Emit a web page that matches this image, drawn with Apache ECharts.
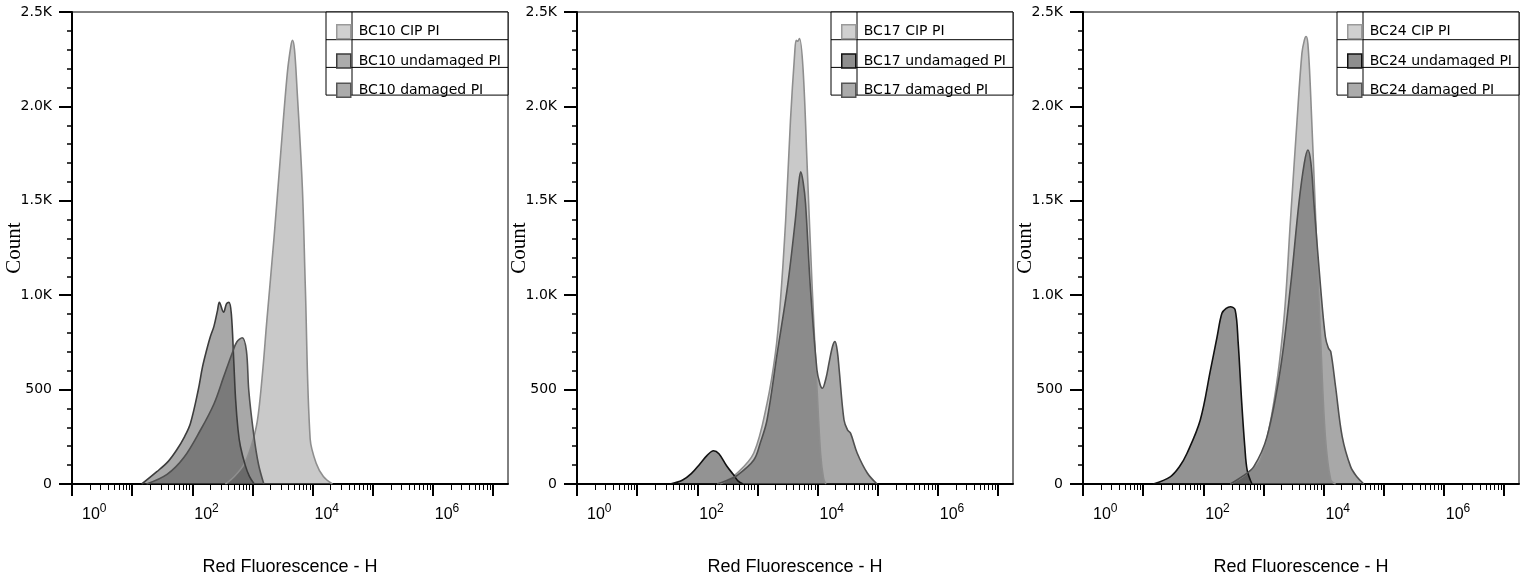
<!DOCTYPE html>
<html>
<head>
<meta charset="utf-8">
<script src="https://cdn.jsdelivr.net/npm/echarts@6/dist/echarts.min.js"></script>
<style>
  html, body { margin: 0; padding: 0; background: #fff; }
  #chart { width: 1526px; height: 579px; }
</style>
</head>
<body>
<div id="chart"></div>
<script>
// x = log10(Red Fluorescence - H), y = Count
const bc10CipX = [2.55, 2.7, 2.86, 2.98, 3.08, 3.16, 3.24, 3.36, 3.47, 3.58, 3.64, 3.667, 3.7, 3.74, 3.83, 3.88, 3.96, 4.06, 4.18, 4.33];
const bc10CipY = [0, 40, 104, 200, 330, 560, 865, 1307, 1750, 2175, 2320, 2350, 2300, 2103, 1573, 1042, 240, 110, 40, 0];
const bc10UndX = [1.16, 1.41, 1.6, 1.74, 1.87, 1.97, 2.1, 2.17, 2.24, 2.3, 2.36, 2.42, 2.45, 2.52, 2.57, 2.61, 2.65, 2.69, 2.72, 2.76, 2.8, 2.88, 2.95, 3.03];
const bc10UndY = [0, 65, 120, 180, 250, 322, 499, 620, 711, 780, 835, 920, 962, 910, 955, 962, 900, 650, 450, 290, 200, 100, 40, 0];
const bc10DamX = [1.24, 1.58, 1.86, 2.13, 2.36, 2.52, 2.66, 2.74, 2.83, 2.9, 2.94, 3.02, 3.1, 3.19];
const bc10DamY = [0, 51, 140, 282, 424, 566, 690, 752, 775, 706, 493, 266, 106, 0];

const bc17CipX = [2.38, 2.66, 2.94, 3.16, 3.3, 3.38, 3.47, 3.55, 3.62, 3.645, 3.67, 3.7, 3.76, 3.83, 3.91, 3.99, 4.05, 4.1, 4.14];
const bc17CipY = [0, 57, 164, 427, 694, 959, 1398, 1928, 2281, 2350, 2345, 2360, 2193, 1663, 1045, 515, 162, 30, 0];
const bc17UndX = [1.55, 1.75, 1.9, 2.05, 2.16, 2.27, 2.36, 2.49, 2.6, 2.68, 2.76];
const bc17UndY = [0, 20, 55, 109, 150, 176, 160, 95, 50, 15, 0];
const bc17DamX = [2.33, 2.5, 2.66, 2.94, 3.05, 3.16, 3.33, 3.5, 3.63, 3.69, 3.72, 3.76, 3.8, 3.88, 3.99, 4.04, 4.08, 4.14, 4.19, 4.25, 4.29, 4.33, 4.36, 4.44, 4.5, 4.55, 4.66, 4.83, 4.99];
const bc17DamY = [0, 20, 45, 127, 220, 339, 694, 1045, 1398, 1600, 1654, 1600, 1487, 1045, 604, 530, 507, 560, 640, 730, 754, 700, 604, 339, 285, 268, 163, 57, 0];

const bc24CipX = [2.45, 2.7, 2.95, 3.17, 3.34, 3.45, 3.56, 3.64, 3.68, 3.71, 3.74, 3.78, 3.87, 3.95, 4.03, 4.12, 4.2];
const bc24CipY = [0, 50, 127, 427, 868, 1398, 1928, 2281, 2350, 2370, 2330, 2104, 1398, 780, 251, 21, 0];
const bc24UndX = [1.17, 1.45, 1.6, 1.73, 1.95, 2.12, 2.23, 2.31, 2.38, 2.45, 2.53, 2.58, 2.64, 2.69, 2.73, 2.81];
const bc24UndY = [0, 38, 90, 163, 339, 604, 780, 904, 930, 939, 922, 750, 427, 200, 74, 0];
const bc24DamX = [2.45, 2.65, 2.84, 3.06, 3.28, 3.45, 3.59, 3.68, 3.74, 3.79, 3.84, 3.95, 4.03, 4.08, 4.12, 4.2, 4.31, 4.45, 4.55, 4.67];
const bc24DamY = [0, 40, 92, 251, 604, 1045, 1487, 1700, 1769, 1700, 1487, 1045, 780, 720, 701, 515, 251, 92, 40, 0];

const sampleNames = ['BC10', 'BC17', 'BC24'];
const yTicks = [0, 500, 1000, 1500, 2000, 2500];
const yTickLabels = ['0', '500', '1.0K', '1.5K', '2.0K', '2.5K'];
const xMajorDecades = [0, 1, 2, 3, 4, 5, 6, 7];
const xLabelDecades = [0, 2, 4, 6];

const panels = [
  { cip: [bc10CipX, bc10CipY], und: [bc10UndX, bc10UndY], dam: [bc10DamX, bc10DamY] },
  { cip: [bc17CipX, bc17CipY], und: [bc17UndX, bc17UndY], dam: [bc17DamX, bc17DamY] },
  { cip: [bc24CipX, bc24CipY], und: [bc24UndX, bc24UndY], dam: [bc24DamX, bc24DamY] }
];

// layout
const panelLeft = [72, 577, 1083];
const plotTop = 12, plotW = 436, plotH = 472;
const xMax = 7.25;
const legW = 182, legRow = 27.7;

// minor ticks at 2..9 of every decade
const xMinor = [];
xMajorDecades.forEach(d => {
  for (let k = 2; k <= 9; k++) {
    const v = d + Math.log10(k);
    if (v < xMax) xMinor.push(v);
  }
});

const styles = {
  cip: { line: '#8e8e8e', fill: 'rgba(135,135,135,0.45)', swatch: '#d0d0d0', border: '#9a9a9a' },
  und: [
    { line: '#3c3c3c', fill: 'rgba(70,70,70,0.47)', swatch: '#ababab', border: '#3c3c3c' },
    { line: '#111', fill: 'rgba(40,40,40,0.5)', swatch: '#8e8e8e', border: '#111' },
    { line: '#111', fill: 'rgba(40,40,40,0.5)', swatch: '#8e8e8e', border: '#111' }
  ],
  dam: { line: '#505050', fill: 'rgba(70,70,70,0.47)', swatch: '#ababab', border: '#555' }
};

const zip = (xs, ys) => xs.map((x, i) => [x, ys[i]]);

const grid = [], xAxis = [], yAxis = [], series = [], legend = [], graphic = [];

panels.forEach((p, i) => {
  const L = panelLeft[i];
  grid.push({
    left: L, top: plotTop, width: plotW, height: plotH,
    containLabel: false, outerBoundsMode: 'none',
    show: true, borderColor: '#000', borderWidth: 1
  });

  xAxis.push({
    gridIndex: i, type: 'value', min: 0, max: xMax, position: 'bottom',
    axisLine: { show: true, onZero: false, lineStyle: { color: '#000', width: 2 } },
    axisTick: { show: true, customValues: xMajorDecades, length: 12, lineStyle: { color: '#000', width: 2 } },
    axisLabel: {
      customValues: xLabelDecades, align: 'left', margin: 19, color: '#000',
      formatter: v => {
        const n = Math.round(v);
        return (n === 0 ? '{b0|10}' : '{b|10}') + '{s|' + n + '}';
      },
      rich: {
        b: { fontSize: 16, fontFamily: 'Liberation Sans', color: '#000', verticalAlign: 'bottom', padding: [0, 0, 0, 2] },
        b0: { fontSize: 16, fontFamily: 'Liberation Sans', color: '#000', verticalAlign: 'bottom', padding: [0, 0, 0, 10] },
        s: { fontSize: 12, fontFamily: 'Liberation Sans', color: '#000', verticalAlign: 'top', padding: [0, 0, 8, 0] }
      }
    },
    splitLine: { show: false },
    name: 'Red Fluorescence - H', nameLocation: 'middle', nameGap: 74, nameMoveOverlap: false,
    nameTextStyle: { fontFamily: 'Liberation Sans', fontSize: 18, color: '#000' }
  });
  xAxis.push({
    gridIndex: i, type: 'value', min: 0, max: xMax, position: 'bottom',
    axisLine: { show: false },
    axisTick: { show: true, customValues: xMinor, length: 6, lineStyle: { color: '#000', width: 1 } },
    axisLabel: { show: false },
    splitLine: { show: false }
  });

  yAxis.push({
    gridIndex: i, type: 'value', min: 0, max: 2500, interval: 500,
    axisLine: { show: true, lineStyle: { color: '#000', width: 2 } },
    axisTick: { show: true, length: 13, lineStyle: { color: '#000', width: 2 } },
    minorTick: { show: true, splitNumber: 5, length: 5, lineStyle: { color: '#000', width: 1.5 } },
    axisLabel: {
      margin: 20, color: '#000', fontFamily: 'DejaVu Sans', fontSize: 14,
      formatter: v => yTickLabels[yTicks.indexOf(v)]
    },
    splitLine: { show: false },
    name: 'Count', nameLocation: 'middle', nameGap: 47, nameRotate: 90, nameMoveOverlap: false,
    nameTextStyle: { fontFamily: 'Liberation Serif', fontSize: 21, color: '#000' }
  });

  const defs = [
    { key: 'cip', label: sampleNames[i] + ' CIP PI', st: styles.cip },
    { key: 'und', label: sampleNames[i] + ' undamaged PI', st: styles.und[i] },
    { key: 'dam', label: sampleNames[i] + ' damaged PI', st: styles.dam }
  ];
  defs.forEach(d => {
    series.push({
      name: d.label, type: 'line', xAxisIndex: 2 * i, yAxisIndex: i,
      data: zip(p[d.key][0], p[d.key][1]),
      smooth: 0.35, showSymbol: false, symbol: 'none',
      lineStyle: { color: d.st.line, width: 1.6 },
      itemStyle: { color: d.st.line },
      areaStyle: { color: d.st.fill, opacity: 1 },
      silent: true, animation: false
    });
  });

  const lx = L + plotW - legW;
  legend.push({
    orient: 'vertical', left: lx + 5, top: plotTop + 7,
    itemWidth: 14, itemHeight: 14, itemGap: legRow - 14,
    icon: 'rect', selectedMode: false,
    textStyle: { fontFamily: 'DejaVu Sans', fontSize: 14, color: '#000', lineHeight: 14, padding: [0, 0, 0, 3] },
    data: defs.map(d => ({ name: d.label, itemStyle: { color: d.st.swatch, borderColor: d.st.border, borderWidth: 1.5 } }))
  });

  graphic.push({
    type: 'rect', z: 3, shape: { x: lx, y: plotTop, width: legW, height: legRow * 3 },
    style: { fill: '#fff', stroke: '#000', lineWidth: 1 }
  });
  [1, 2].forEach(r => graphic.push({
    type: 'line', z: 3, shape: { x1: lx, y1: plotTop + legRow * r, x2: lx + legW, y2: plotTop + legRow * r },
    style: { stroke: '#000', lineWidth: 1 }
  }));
  graphic.push({
    type: 'line', z: 3, shape: { x1: lx + 26, y1: plotTop, x2: lx + 26, y2: plotTop + legRow * 3 },
    style: { stroke: '#000', lineWidth: 1 }
  });
});

const chart = echarts.init(document.getElementById('chart'), null, { renderer: 'canvas' });
chart.setOption({
  backgroundColor: '#fff',
  animation: false,
  grid, xAxis, yAxis, series, legend, graphic
});
window.addEventListener('resize', () => chart.resize());
</script>
</body>
</html>
